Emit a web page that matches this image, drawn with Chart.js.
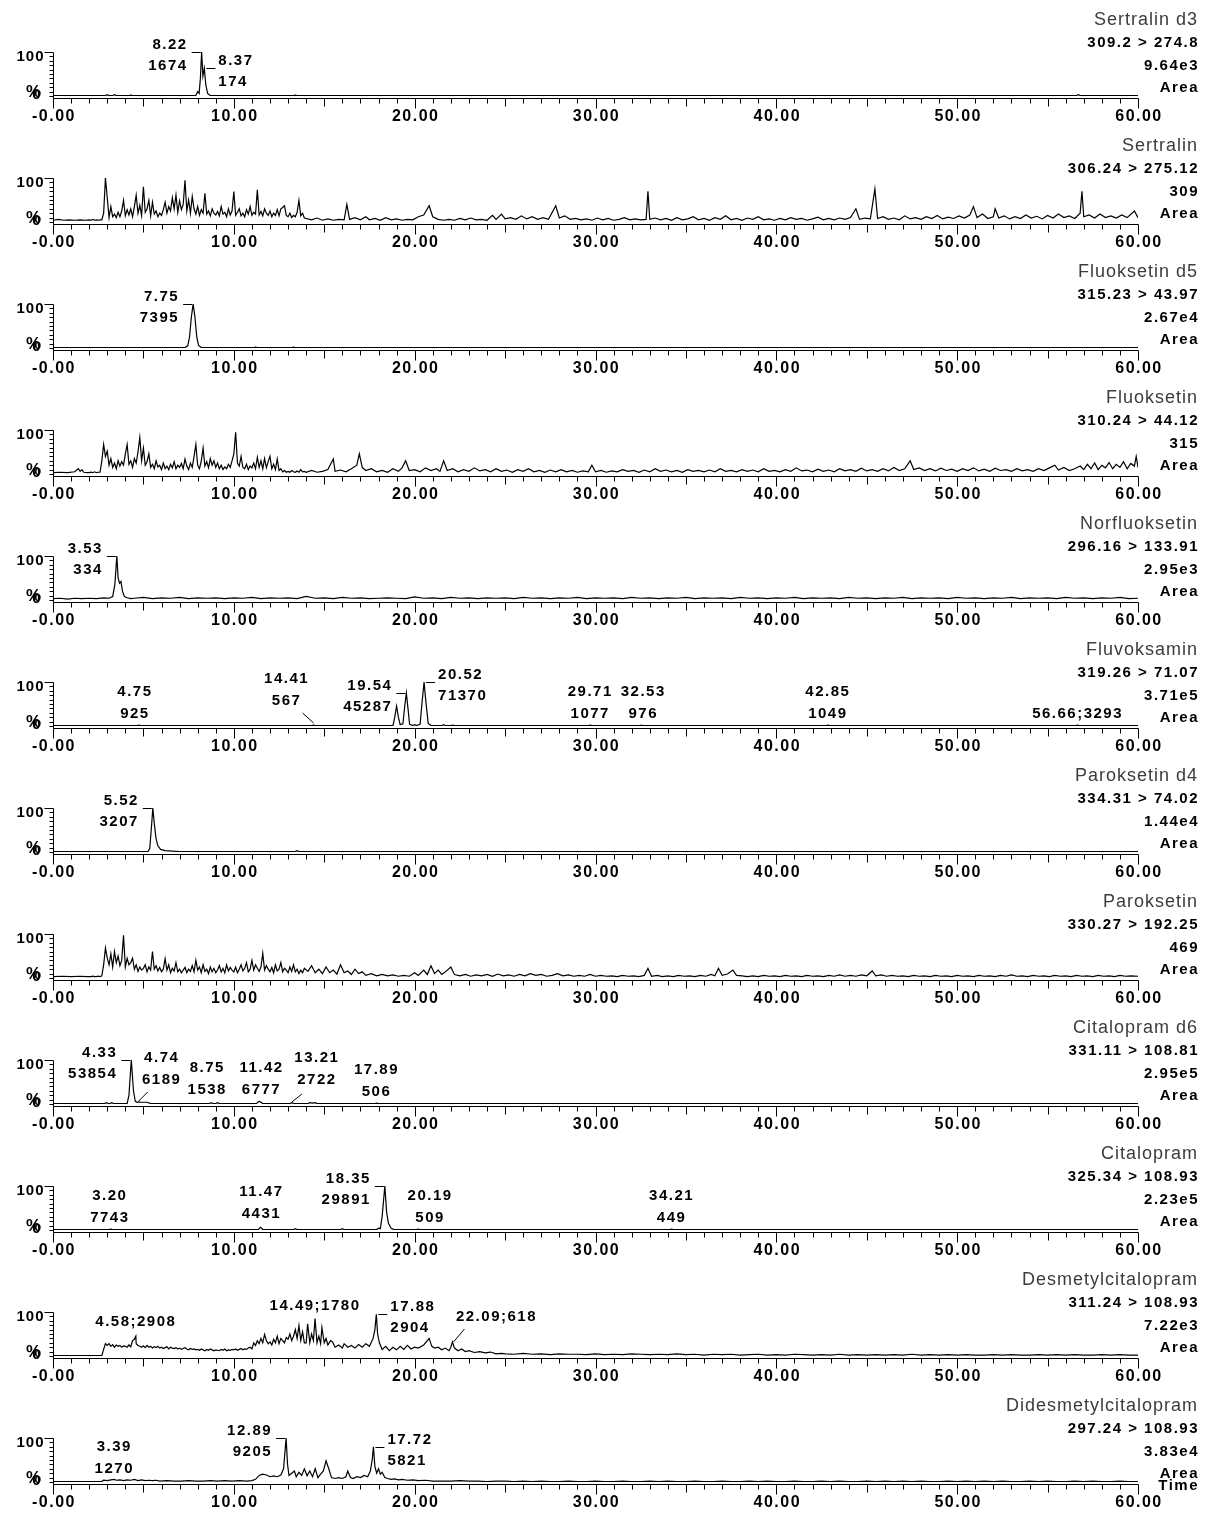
<!DOCTYPE html>
<html>
<head>
<meta charset="utf-8">
<title>MRM kromatogrammer</title>
<script src="https://cdn.jsdelivr.net/npm/chart.js@4.4.1/dist/chart.umd.min.js"></script>
<style>
  html, body { margin: 0; padding: 0; background: #fff; }
  #page { position: relative; width: 1207px; height: 1513px; overflow: hidden; }
  .panel { position: absolute; left: 0; width: 1207px; height: 126px; }
  .panel canvas { position: absolute; left: 0; top: 0; }
  .hdr { position: absolute; right: 8px; height: 22px; line-height: 22px; text-align: right; white-space: nowrap; }
  .hdr.name { font: 18px "Liberation Sans", Arial, sans-serif; color: #3c3c3c; letter-spacing: 1px; right: 9px; }
  .hdr.bold { font: bold 15px "Liberation Sans", Arial, sans-serif; color: #000; letter-spacing: 1.5px; }
</style>
</head>
<body>
<div id="page"></div>
<script>
// Overskrifter for hvert spor
const compoundNames = ['Sertralin d3', 'Sertralin', 'Fluoksetin d5', 'Fluoksetin', 'Norfluoksetin', 'Fluvoksamin',
  'Paroksetin d4', 'Paroksetin', 'Citalopram d6', 'Citalopram', 'Desmetylcitalopram', 'Didesmetylcitalopram'];
const transitions = ['309.2 > 274.8', '306.24 > 275.12', '315.23 > 43.97', '310.24 > 44.12', '296.16 > 133.91', '319.26 > 71.07',
  '334.31 > 74.02', '330.27 > 192.25', '331.11 > 108.81', '325.34 > 108.93', '311.24 > 108.93', '297.24 > 108.93'];
const intensities = ['9.64e3', '309', '2.67e4', '315', '2.95e3', '3.71e5', '1.44e4', '469', '2.95e5', '2.23e5', '7.22e3', '3.83e4'];
const timeTicks = [0, 10, 20, 30, 40, 50, 60];
const timeTickLabels = ['-0.00', '10.00', '20.00', '30.00', '40.00', '50.00', '60.00'];

// Spor: [tid (min), intensitet (%)]; tette områder som verdier per 0.1 min fra 2.0
const sertralinD3Pts = [[0,1],[2.9,1],[3.0,3],[3.1,1],[3.3,1],[3.4,3],[3.5,1],[4.2,1],[4.3,2],[4.4,1],[7.9,1],[8.0,10],
  [8.08,6],[8.15,40],[8.22,100],[8.29,45],[8.37,63],[8.45,25],[8.55,6],[8.7,1],[13.3,1],[13.4,2],[13.5,1],
  [56.6,1],[56.7,3],[56.8,1],[60,1]];

const sertralinPts = [[0,4],[0.3,6],[0.6,4],[0.9,5],[1.2,4],[1.5,5],[1.8,4],
  [14.3,5],[14.6,9],[14.9,4],[15.2,7],[15.5,4],[15.8,6],[16.1,5],[16.25,40],[16.4,6],[16.7,10],[17.0,5],[17.3,12],[17.5,5],
  [17.8,8],[18.1,4],[18.4,10],[18.7,5],[19.0,7],[19.3,4],[19.6,6],[19.9,5],[20.2,12],[20.5,16],[20.8,37],[21.0,12],[21.3,6],
  [21.6,4],[21.9,6],[22.2,4],[22.5,8],[22.8,5],[23.1,9],[23.4,5],[23.7,6],[24.0,4],[24.3,15],[24.5,6],[24.8,18],[25.0,7],
  [25.3,10],[25.6,6],[25.9,14],[26.2,7],[26.5,12],[26.8,6],[27.1,10],[27.4,6],[27.8,37],[28.0,9],[28.3,14],[28.6,6],[28.9,8],
  [29.2,5],[29.5,7],[29.8,4],[30.1,9],[30.4,5],[30.7,8],[31.0,4],[31.3,6],[31.6,10],[31.9,5],[32.2,7],[32.5,5],[32.8,6],
  [32.9,70],[33.0,6],[33.3,9],[33.6,5],[33.9,8],[34.2,4],[34.5,10],[34.8,5],[35.1,7],[35.4,12],[35.7,5],[36.0,8],[36.3,4],
  [36.6,10],[36.9,6],[37.2,14],[37.5,5],[37.8,8],[38.1,4],[38.4,9],[38.7,6],[39.0,12],[39.3,5],[39.6,7],[39.9,4],[40.2,8],
  [40.5,5],[40.8,10],[41.1,6],[41.4,8],[41.7,4],[42.0,7],[42.3,11],[42.6,5],[42.9,8],[43.2,5],[43.5,9],[43.8,6],[44.1,10],
  [44.4,30],[44.6,6],[44.9,9],[45.2,7],[45.45,75],[45.6,8],[45.9,12],[46.2,6],[46.5,9],[46.8,5],[47.1,14],[47.4,7],[47.7,10],
  [48.0,6],[48.3,12],[48.6,8],[48.9,15],[49.2,7],[49.5,11],[49.8,8],[50.1,14],[50.4,9],[50.7,16],[50.9,35],[51.1,10],[51.4,18],
  [51.7,8],[52.0,12],[52.1,30],[52.3,9],[52.6,14],[52.9,7],[53.2,12],[53.5,8],[53.8,16],[54.1,9],[54.4,13],[54.7,7],[55.0,15],
  [55.3,9],[55.6,18],[55.9,10],[56.2,14],[56.5,8],[56.8,20],[56.9,70],[57.0,12],[57.3,16],[57.6,9],[57.9,18],[58.2,10],
  [58.5,14],[58.8,9],[59.1,16],[59.4,10],[59.8,25],[60,10]];
const sertralinFast = [
  5, 4, 6, 4, 5, 4, 5, 5, 20, 100,
  55, 10, 35, 12, 18, 10, 22, 12, 25, 49,
  14, 28, 16, 30, 12, 35, 61, 20, 38, 15,
  80, 22, 30, 49, 14, 45, 18, 25, 12, 20,
  15, 28, 45, 20, 35, 25, 55, 30, 61, 22,
  48, 28, 40, 95, 25, 50, 20, 58, 30, 18,
  35, 15, 28, 20, 65, 18, 25, 14, 30, 20,
  16, 24, 14, 35, 18, 22, 12, 30, 16, 25,
  69, 15, 22, 30, 14, 20, 12, 28, 18, 35,
  15, 22, 18, 73, 16, 24, 14, 30, 20, 15,
  25, 12, 20, 15, 28, 14, 30, 33, 37, 15,
  12, 20, 10, 15, 12, 22, 49, 14, 20, 9];

const fluoksetinD5Pts = [[0,1],[7.3,1],[7.45,5],[7.55,25],[7.65,70],[7.75,100],[7.85,70],[7.95,25],[8.05,6],[8.2,1],
  [11.1,1],[11.2,2],[11.3,1],[13.2,1],[13.3,2],[13.4,1],[60,1]];

const fluoksetinPts = [[0,3],[0.4,4],[0.8,3],[1.2,5],[1.4,12],[1.5,6],[1.6,10],[1.7,4],[1.9,3],
  [14.0,4],[14.3,8],[14.6,4],[14.9,6],[15.2,10],[15.5,34],[15.6,6],[15.9,9],[16.2,5],[16.5,12],[16.8,20],[16.94,46],[17.1,15],
  [17.3,8],[17.6,12],[17.9,5],[18.2,8],[18.5,4],[18.8,12],[19.1,6],[19.3,14],[19.5,30],[19.7,8],[20.0,10],[20.3,5],[20.6,14],
  [20.9,8],[21.2,12],[21.4,6],[21.6,30],[21.8,8],[22.1,12],[22.4,5],[22.7,10],[23.0,6],[23.3,14],[23.6,7],[23.9,10],[24.2,5],
  [24.5,12],[24.8,6],[25.1,9],[25.4,4],[25.7,10],[26.0,6],[26.3,12],[26.6,5],[26.9,8],[27.2,4],[27.5,9],[27.8,5],[28.1,10],
  [28.4,5],[28.7,8],[29.0,4],[29.3,7],[29.6,5],[29.8,20],[30.0,5],[30.3,8],[30.6,4],[30.9,7],[31.2,5],[31.5,10],[31.8,6],
  [32.1,8],[32.4,4],[32.7,9],[33.0,5],[33.3,12],[33.6,6],[33.9,9],[34.2,5],[34.5,8],[34.8,4],[35.1,10],[35.4,6],[35.7,8],
  [36.0,5],[36.3,9],[36.6,5],[36.9,12],[37.2,6],[37.5,8],[37.8,5],[38.1,10],[38.4,6],[38.7,9],[39.0,5],[39.3,12],[39.6,6],
  [39.9,8],[40.2,5],[40.5,10],[40.8,6],[41.1,14],[41.4,7],[41.7,9],[42.0,5],[42.3,11],[42.6,6],[42.9,9],[43.2,5],[43.5,12],
  [43.8,7],[44.1,10],[44.4,6],[44.7,13],[45.0,7],[45.3,10],[45.6,6],[45.9,12],[46.2,7],[46.5,15],[46.8,8],[47.1,12],[47.4,30],
  [47.6,10],[47.9,14],[48.2,8],[48.5,12],[48.8,7],[49.1,13],[49.4,8],[49.7,11],[50.0,6],[50.3,12],[50.6,8],[50.9,14],[51.2,7],
  [51.5,11],[51.8,6],[52.1,13],[52.4,8],[52.7,10],[53.0,6],[53.3,12],[53.6,7],[53.9,10],[54.2,6],[54.5,12],[54.8,8],[55.1,14],
  [55.4,20],[55.6,9],[55.9,15],[56.2,8],[56.5,12],[56.8,18],[57.0,10],[57.2,22],[57.4,12],[57.6,25],[57.8,10],[58.0,20],
  [58.2,14],[58.4,26],[58.6,12],[58.8,22],[59.0,15],[59.2,28],[59.4,12],[59.6,24],[59.8,18],[59.9,40],[60,15]];
const fluoksetinFast = [
  3, 4, 3, 5, 3, 4, 4, 30, 67, 40,
  52, 20, 35, 15, 25, 12, 30, 18, 28, 20,
  45, 67, 22, 30, 15, 35, 25, 50, 83, 30,
  59, 20, 28, 46, 15, 22, 12, 30, 16, 20,
  10, 25, 12, 18, 10, 22, 14, 28, 12, 20,
  15, 24, 12, 34, 18, 10, 25, 15, 40, 67,
  20, 12, 30, 59, 18, 28, 14, 35, 20, 30,
  15, 25, 12, 20, 10, 16, 12, 22, 15, 30,
  45, 95, 25, 18, 40, 15, 12, 22, 10, 18,
  14, 25, 12, 38, 15, 30, 12, 35, 14, 28,
  40, 12, 22, 10, 34, 8, 12, 5, 8, 4,
  6, 4, 8, 5, 4, 7, 4, 10, 5, 6];

const norfluoksetinPts = [[0,3],[0.4,4],[0.8,2],[1.2,4],[1.6,3],[2.0,4],[2.4,3],[2.8,5],[3.1,4],[3.3,8],[3.42,35],
  [3.53,100],[3.6,50],[3.68,38],[3.76,42],[3.84,20],[3.95,8],[4.1,5],[4.3,3]];
// 0.5 min oppløsning fra 4.5 min
const norfluoksetinSlow = [
  4, 6, 3, 5, 4, 6, 3, 5, 4, 5,
  3, 5, 4, 6, 3, 5, 4, 5, 3, 8,
  4, 5, 3, 6, 4, 5, 3, 4, 5, 4,
  3, 7, 4, 5, 3, 6, 4, 5, 3, 5,
  4, 5, 3, 6, 4, 5, 3, 5, 4, 6,
  3, 5, 4, 5, 3, 6, 4, 5, 3, 5,
  4, 6, 3, 5, 4, 5, 3, 6, 4, 5,
  3, 5, 4, 6, 3, 5, 4, 5, 3, 6,
  4, 5, 3, 5, 4, 6, 3, 5, 4, 5,
  3, 6, 4, 5, 3, 5, 4, 6, 3, 5,
  4, 5, 3, 6, 4, 5, 3, 5, 4, 6,
  3, 4];

const fluvoksaminPts = [[0,1],[4.65,1],[4.75,2],[4.85,1],[14.3,1],[14.41,2],[14.5,1],[18.8,1],[18.9,20],[19.0,45],[19.1,20],
  [19.2,3],[19.35,5],[19.45,45],[19.54,75],[19.63,40],[19.72,4],[19.9,1],[20.0,3],[20.1,1],[20.3,4],[20.4,50],[20.52,100],
  [20.62,55],[20.75,6],[20.9,1],[21.5,1],[21.6,3],[21.7,1],[22.0,1],[22.1,2],[22.2,1],[29.6,1],[29.71,2],[29.8,1],
  [32.45,1],[32.53,2],[32.6,1],[42.75,1],[42.85,2],[42.95,1],[56.55,1],[56.66,2],[56.75,1],[60,1]];

const paroksetinD4Pts = [[0,1],[5.25,1],[5.35,8],[5.45,60],[5.52,100],[5.6,65],[5.7,30],[5.8,14],[5.95,6],[6.2,3],[6.6,2],
  [7.0,1],[13.4,1],[13.5,3],[13.6,1],[60,1]];

const paroksetinPts = [[0,3],[0.5,4],[1.0,3],[1.5,4],[1.9,3],
  [14.1,15],[14.3,28],[14.5,12],[14.7,20],[14.9,10],[15.1,25],[15.3,12],[15.5,18],[15.7,9],[15.9,30],[16.1,12],[16.3,16],
  [16.5,8],[16.7,20],[16.9,10],[17.1,14],[17.3,6],[17.6,10],[17.9,5],[18.2,8],[18.5,5],[18.8,7],[19.1,4],[19.4,6],[19.7,4],
  [20.0,12],[20.2,6],[20.5,18],[20.7,8],[20.9,28],[21.1,10],[21.3,18],[21.5,8],[21.7,14],[22.0,25],[22.2,8],[22.5,5],[22.8,8],
  [23.1,4],[23.4,7],[23.7,5],[24.0,8],[24.3,4],[24.6,9],[24.9,5],[25.2,7],[25.5,4],[25.8,8],[26.1,5],[26.4,10],[26.7,6],
  [27.0,8],[27.3,4],[27.6,6],[27.9,10],[28.2,5],[28.5,7],[28.8,4],[29.1,6],[29.4,4],[29.7,8],[30.0,4],[30.3,6],[30.6,4],
  [30.9,5],[31.2,3],[31.5,6],[31.8,4],[32.1,5],[32.4,3],[32.7,6],[32.9,22],[33.1,4],[33.4,6],[33.7,3],[34.0,5],[34.3,3],
  [34.6,6],[34.9,4],[35.2,5],[35.5,3],[35.8,6],[36.1,4],[36.4,8],[36.6,5],[36.8,22],[37.0,6],[37.3,9],[37.6,18],[37.8,6],
  [38.1,5],[38.4,3],[38.7,5],[39.0,3],[39.3,6],[39.6,4],[39.9,5],[40.2,3],[40.5,6],[40.8,4],[41.1,5],[41.4,3],[41.7,6],
  [42.0,4],[42.3,5],[42.6,3],[42.9,6],[43.2,4],[43.5,7],[43.8,4],[44.1,6],[44.4,4],[44.7,7],[45.0,5],[45.3,16],[45.5,5],
  [45.8,7],[46.1,4],[46.4,6],[46.7,4],[47.0,5],[47.3,3],[47.6,6],[47.9,4],[48.2,5],[48.5,3],[48.8,6],[49.1,4],[49.4,5],
  [49.7,3],[50.0,6],[50.3,4],[50.6,5],[50.9,3],[51.2,6],[51.5,4],[51.8,5],[52.1,3],[52.4,6],[52.7,4],[53.0,7],[53.3,4],
  [53.6,5],[53.9,3],[54.2,6],[54.5,4],[54.8,5],[55.1,3],[55.4,6],[55.7,4],[56.0,5],[56.3,3],[56.6,6],[56.9,4],[57.2,5],
  [57.5,3],[57.8,6],[58.1,4],[58.4,5],[58.7,3],[59.0,6],[59.3,4],[59.6,5],[60,4]];
const paroksetinFast = [
  3, 3, 4, 3, 3, 4, 3, 5, 30, 68,
  45, 30, 55, 25, 60, 35, 50, 28, 40, 97,
  25, 45, 30, 35, 45, 20, 30, 15, 25, 18,
  22, 30, 14, 25, 18, 60, 20, 28, 16, 24,
  14, 20, 44, 18, 30, 12, 22, 16, 35, 14,
  20, 12, 18, 24, 12, 20, 15, 28, 14, 40,
  18, 25, 12, 30, 15, 20, 10, 25, 14, 22,
  12, 18, 28, 14, 22, 12, 30, 16, 24, 18,
  14, 25, 12, 20, 30, 16, 22, 35, 14, 20,
  40, 18, 30, 22, 15, 25, 56, 18, 28, 20,
  14, 24, 12, 30, 16, 20, 35, 14, 22, 18,
  12, 25, 15, 30, 14, 20, 10, 18, 12, 22];

const citalopramD6Pts = [[0,1],[2.85,1],[2.95,3],[3.05,1],[3.15,1],[3.25,3],[3.35,1],[4.1,1],[4.2,20],[4.33,100],[4.45,30],
  [4.55,6],[4.65,4],[4.74,5],[4.85,4],[5.2,4],[5.4,1],[8.65,1],[8.75,3],[8.85,1],[9.0,1],[9.1,3],[9.2,1],[11.25,1],
  [11.35,5],[11.42,6],[11.5,4],[11.6,1],[13.1,1],[13.21,3],[13.3,1],[14.1,1],[14.2,3],[14.35,2],[14.5,3],[14.6,1],
  [17.8,1],[17.89,2],[18.0,1],[60,1]];

const citalopramPts = [[0,1],[3.1,1],[3.2,2],[3.3,1],[11.35,1],[11.47,6],[11.6,1],[13.3,1],[13.4,3],[13.5,1],[15.9,1],
  [16.0,3],[16.1,1],[17.9,1],[18.0,4],[18.1,3],[18.2,30],[18.35,100],[18.45,40],[18.55,15],[18.7,4],[18.85,1],[20.1,1],
  [20.19,2],[20.3,1],[34.1,1],[34.21,2],[34.3,1],[60,1]];

const desmetylPts = [[0,1],[1.9,1],[4.58,45],
  [14.0,30],[14.08,73],[14.2,30],[14.3,50],[14.4,35],[14.49,85],[14.6,30],[14.7,45],[14.8,28],[14.87,65],[15.0,30],[15.1,40],
  [15.2,25],[15.35,35],[15.46,32],[15.6,20],[15.8,25],[16.0,18],[16.1,28],[16.3,20],[16.5,24],[16.7,18],[16.9,26],[17.1,20],
  [17.3,28],[17.5,22],[17.7,40],[17.8,60],[17.88,95],[17.95,50],[18.05,30],[18.2,15],[18.4,22],[18.6,12],[18.8,20],[19.0,14],
  [19.2,22],[19.4,15],[19.6,24],[19.8,16],[20.0,20],[20.2,18],[20.5,25],[20.7,35],[20.8,40],[20.95,22],[21.1,18],[21.3,20],
  [21.5,14],[21.7,18],[21.9,12],[22.0,20],[22.09,32],[22.2,18],[22.4,12],[22.6,16],[22.8,10],[23.0,12],[23.3,8],[23.6,10],
  [23.9,7],[24.2,9],[24.5,5],[24.8,6]];
const desmetylFast = [
  1, 1, 1, 1, 1, 1, 1, 1, 15, 28,
  24, 28, 22, 26, 20, 25, 22, 24, 20, 23,
  22, 20, 25, 21, 35, 38, 28, 24, 22, 20,
  23, 19, 24, 20, 22, 18, 21, 19, 22, 18,
  20, 17, 19, 21, 16, 20, 18, 17, 19, 16,
  18, 15, 17, 19, 16, 14, 17, 15, 16, 14,
  15, 13, 16, 14, 12, 15, 13, 16, 14, 12,
  14, 13, 12, 15, 13, 16, 12, 14, 13, 15,
  14, 16, 13, 15, 17, 14, 16, 15, 18, 20,
  16, 30, 24, 35, 28, 40, 30, 49, 35, 28,
  32, 25, 38, 30, 45, 28, 40, 35, 30, 42,
  38, 50, 35, 45, 60, 40, 69, 35, 55, 30];
// 0.5 min oppløsning fra 25 min
const desmetylSlow = [
  5, 4, 6, 4, 5, 3, 5, 4, 4, 3,
  5, 3, 4, 3, 5, 4, 3, 4, 3, 5,
  3, 4, 2, 4, 3, 4, 2, 3, 4, 2,
  3, 2, 4, 3, 2, 3, 2, 4, 2, 3,
  2, 3, 2, 3, 2, 4, 2, 3, 2, 3,
  2, 3, 2, 2, 3, 2, 3, 2, 2, 3,
  2, 3, 2, 3, 2, 2, 3, 2, 3, 2,
  2];

const didesmetylPts = [[0,1],[2.7,1],[2.8,4],[3.0,3],[3.2,5],[3.39,6],[3.5,4],[3.7,5],[3.9,3],[4.1,5],[4.3,4],[4.5,6],
  [4.7,3],[4.9,5],[5.1,3],[5.3,4],[5.5,3],[5.7,4],[5.9,2],[6.3,3],[6.7,2],[7.1,2],[7.5,3],[7.9,2],[8.3,2],[8.7,3],[9.1,2],
  [9.5,3],[9.9,2],[10.3,3],[10.7,2],[11.0,3],[11.2,6],[11.4,15],[11.6,18],[11.8,16],[12.0,12],[12.2,14],[12.4,12],[12.6,16],
  [12.75,30],[12.89,100],[12.97,40],[13.05,15],[13.2,20],[13.35,25],[13.45,12],[13.6,22],[13.75,15],[13.9,30],[14.05,14],
  [14.2,25],[14.35,12],[14.5,30],[14.65,10],[14.8,18],[14.95,25],[15.1,48],[15.25,30],[15.4,10],[15.6,8],[15.8,10],[16.0,8],
  [16.2,12],[16.3,25],[16.45,10],[16.6,8],[16.8,12],[17.0,10],[17.2,15],[17.4,12],[17.55,25],[17.65,50],[17.72,80],[17.8,35],
  [17.9,20],[18.0,30],[18.1,18],[18.2,22],[18.35,10],[18.5,8],[18.7,6],[18.9,7],[19.1,5],[19.3,6],[19.6,4],[19.9,5],[20.2,3],
  [20.6,4],[21.0,2]];
// 0.5 min oppløsning fra 21.5 min
const didesmetylSlow = [
  2, 2, 3, 2, 2, 1, 2, 2, 1, 2,
  1, 2, 1, 1, 2, 1, 1, 2, 1, 1,
  2, 1, 1, 2, 1, 2, 1, 1, 2, 1,
  1, 2, 1, 1, 2, 1, 2, 1, 1, 2,
  1, 1, 2, 1, 2, 1, 1, 2, 1, 2,
  1, 2, 1, 2, 1, 1, 2, 1, 2, 1,
  2, 1, 2, 1, 1, 2, 1, 2, 1, 1,
  2, 1, 2, 1, 1, 2, 1, 1];

// Toppmerking: tid og areal
const sertralinD3Peaks = [{ t: 8.22, area: '1674', kind: 'left' }, { t: 8.37, area: '174', kind: 'right' }];
const fluoksetinD5Peaks = [{ t: 7.75, area: '7395', kind: 'left' }];
const norfluoksetinPeaks = [{ t: 3.53, area: '334', kind: 'left' }];
const fluvoksaminPeaks = [
  { t: 4.75, area: '925', kind: 'free', dx: -4, y: 62 },
  { t: 14.41, area: '567', kind: 'free', dx: -27, y: 49, lead: [-11, 83, 0, 93] },
  { t: 19.54, area: '45287', kind: 'left' },
  { t: 20.52, area: '71370', kind: 'right' },
  { t: 29.71, area: '1077', kind: 'free', dx: 0, y: 62 },
  { t: 32.53, area: '976', kind: 'free', dx: 2, y: 62 },
  { t: 42.85, area: '1049', kind: 'free', dx: 0, y: 62 },
  { t: 56.66, area: '3293', kind: 'free', join: true, dx: 0, y: 84 }];
const paroksetinD4Peaks = [{ t: 5.52, area: '3207', kind: 'left' }];
const citalopramD6Peaks = [
  { t: 4.33, area: '53854', kind: 'left' },
  { t: 4.74, area: '6189', kind: 'free', dx: 23, y: 50, lead: [9, 84, 0, 93] },
  { t: 8.75, area: '1538', kind: 'free', dx: -4, y: 60 },
  { t: 11.42, area: '6777', kind: 'free', dx: 2, y: 60 },
  { t: 13.21, area: '2722', kind: 'free', dx: 25, y: 50, lead: [10, 86, 0, 94] },
  { t: 17.89, area: '506', kind: 'free', dx: 0, y: 62 }];
const citalopramPeaks = [
  { t: 3.20, area: '7743', kind: 'free', dx: -1, y: 62 },
  { t: 11.47, area: '4431', kind: 'free', dx: 1, y: 58 },
  { t: 18.35, area: '29891', kind: 'left' },
  { t: 20.19, area: '509', kind: 'free', dx: 12, y: 62 },
  { t: 34.21, area: '449', kind: 'free', dx: 0, y: 62 }];
const desmetylPeaks = [
  { t: 4.58, area: '2908', kind: 'free', join: true, dx: 0, y: 62 },
  { t: 14.49, area: '1780', kind: 'free', join: true, dx: 0, y: 46 },
  { t: 17.88, area: '2904', kind: 'right' },
  { t: 22.09, area: '618', kind: 'free', join: true, dx: 44, y: 57, lead: [12, 69, 1, 82] }];
const didesmetylPeaks = [
  { t: 3.39, area: '1270', kind: 'free', dx: 0, y: 61 },
  { t: 12.89, area: '9205', kind: 'left' },
  { t: 17.72, area: '5821', kind: 'right' }];

// Slå sammen punktlister og tette verdirekker
function buildTrace(pairs, grids = []) {
  const pts = pairs.map(([x, y]) => ({ x, y }));
  grids.forEach(g => {
    g.values.forEach((y, i) => pts.push({ x: +(g.from + i * g.step).toFixed(2), y }));
  });
  return pts.sort((a, b) => a.x - b.x);
}

const traces = [
  buildTrace(sertralinD3Pts),
  buildTrace(sertralinPts, [{ from: 2.0, step: 0.1, values: sertralinFast }]),
  buildTrace(fluoksetinD5Pts),
  buildTrace(fluoksetinPts, [{ from: 2.0, step: 0.1, values: fluoksetinFast }]),
  buildTrace(norfluoksetinPts, [{ from: 4.5, step: 0.5, values: norfluoksetinSlow }]),
  buildTrace(fluvoksaminPts),
  buildTrace(paroksetinD4Pts),
  buildTrace(paroksetinPts, [{ from: 2.0, step: 0.1, values: paroksetinFast }]),
  buildTrace(citalopramD6Pts),
  buildTrace(citalopramPts),
  buildTrace(desmetylPts, [{ from: 2.0, step: 0.1, values: desmetylFast }, { from: 25.0, step: 0.5, values: desmetylSlow }]),
  buildTrace(didesmetylPts, [{ from: 21.5, step: 0.5, values: didesmetylSlow }])
];
const peakSets = [sertralinD3Peaks, [], fluoksetinD5Peaks, [], norfluoksetinPeaks, fluvoksaminPeaks,
  paroksetinD4Peaks, [], citalopramD6Peaks, citalopramPeaks, desmetylPeaks, didesmetylPeaks];

const PANEL_H = 126;
const BOLD = 'bold 15px "Liberation Sans", Arial, sans-serif';

function line(ctx, x1, y1, x2, y2) {
  ctx.beginPath();
  ctx.moveTo(x1, y1);
  ctx.lineTo(x2, y2);
  ctx.stroke();
}

// Akser tegnet i MassLynx-stil
const axisPlugin = {
  id: 'mlAxes',
  afterDraw(chart) {
    const ctx = chart.ctx;
    const xs = chart.scales.x, ys = chart.scales.y;
    const left = Math.round(xs.getPixelForValue(0)) + 0.5;
    const right = Math.round(xs.getPixelForValue(60)) + 0.5;
    const top = Math.round(ys.getPixelForValue(100)) + 0.5;
    const axisY = Math.round(ys.getPixelForValue(0)) + 2.5;
    ctx.save();
    ctx.strokeStyle = '#000';
    ctx.fillStyle = '#000';
    ctx.lineWidth = 1;
    line(ctx, left, axisY, right, axisY);
    line(ctx, left, top, left, axisY);
    for (let m = 0; m <= 60; m++) {
      const px = Math.round(xs.getPixelForValue(m)) + 0.5;
      const len = m % 10 === 0 ? 10 : (m % 5 === 0 ? 8 : 5);
      line(ctx, px, axisY, px, axisY + len);
    }
    for (let p = 0; p <= 100; p += 10) {
      const py = Math.round(ys.getPixelForValue(p)) + 0.5;
      line(ctx, left - (p === 100 ? 9 : 4), py, left, py);
    }
    ctx.font = 'bold 16px "Liberation Sans", Arial, sans-serif';
    ctx.letterSpacing = '1.5px';
    ctx.textAlign = 'center';
    ctx.textBaseline = 'middle';
    timeTicks.forEach((m, i) => ctx.fillText(timeTickLabels[i], xs.getPixelForValue(m) + 1, 117));
    ctx.font = BOLD;
    ctx.letterSpacing = '1px';
    ctx.textAlign = 'right';
    ctx.fillText('100', left - 9, top + 4);
    ctx.textAlign = 'center';
    ctx.font = 'bold 17px "Liberation Sans", Arial, sans-serif';
    ctx.fillText('%', 34, 92);
    ctx.font = BOLD;
    ctx.fillText('0', 37, 95);
    ctx.restore();
  }
};

function makePeakPlugin(points, peaks) {
  return {
    id: 'peakLabels',
    afterDatasetsDraw(chart) {
      const ctx = chart.ctx;
      const xs = chart.scales.x, ys = chart.scales.y;
      ctx.save();
      ctx.strokeStyle = '#000';
      ctx.fillStyle = '#000';
      ctx.lineWidth = 1;
      ctx.font = BOLD;
      ctx.letterSpacing = '1.5px';
      ctx.textBaseline = 'middle';
      peaks.forEach(pk => {
        const px = xs.getPixelForValue(pk.t);
        const hit = points.find(p => Math.abs(p.x - pk.t) < 1e-6);
        const py = Math.round(ys.getPixelForValue(hit ? hit.y : 0)) + 0.5;
        const tTxt = pk.t.toFixed(2);
        if (pk.kind === 'left') {
          line(ctx, px - 10, py, px - 1, py);
          ctx.textAlign = 'right';
          ctx.fillText(tTxt, px - 14, py - 8);
          ctx.fillText(pk.area, px - 14, py + 13);
        } else if (pk.kind === 'right') {
          line(ctx, px + 2, py, px + 11, py);
          ctx.textAlign = 'left';
          ctx.fillText(tTxt, px + 14, py - 8);
          ctx.fillText(pk.area, px + 14, py + 13);
        } else {
          ctx.textAlign = 'center';
          const cx = px + pk.dx;
          if (pk.join) {
            ctx.fillText(tTxt + ';' + pk.area, cx, pk.y);
          } else {
            ctx.fillText(tTxt, cx, pk.y);
            ctx.fillText(pk.area, cx, pk.y + 22);
          }
          if (pk.lead) {
            const [a, b, c, d] = pk.lead;
            line(ctx, px + a, b, px + c, d);
          }
        }
      });
      ctx.restore();
    }
  };
}

const page = document.getElementById('page');
const hdrTops = [9, 33, 56, 78];

traces.forEach((pts, i) => {
  const panel = document.createElement('div');
  panel.className = 'panel';
  panel.style.top = (i * PANEL_H) + 'px';
  const canvas = document.createElement('canvas');
  canvas.width = 1207;
  canvas.height = PANEL_H;
  panel.appendChild(canvas);

  const texts = [compoundNames[i], transitions[i], intensities[i], 'Area'];
  texts.forEach((txt, k) => {
    const d = document.createElement('div');
    d.className = 'hdr ' + (k === 0 ? 'name' : 'bold');
    d.style.top = hdrTops[k] + 'px';
    d.textContent = txt;
    panel.appendChild(d);
  });
  if (i === traces.length - 1) {
    const d = document.createElement('div');
    d.className = 'hdr bold';
    d.style.top = '90px';
    d.textContent = 'Time';
    panel.appendChild(d);
  }
  page.appendChild(panel);

  new Chart(canvas, {
    type: 'line',
    data: {
      datasets: [{
        data: pts,
        borderColor: '#000',
        borderWidth: 1.2,
        pointRadius: 0,
        tension: 0,
        fill: false
      }]
    },
    options: {
      responsive: false,
      animation: false,
      events: [],
      layout: { padding: { left: 53, right: 69, top: 52, bottom: 30 } },
      scales: {
        x: { type: 'linear', min: 0, max: 60, display: false },
        y: { min: 0, max: 100, display: false }
      },
      plugins: {
        legend: { display: false },
        tooltip: { enabled: false }
      }
    },
    plugins: [axisPlugin, makePeakPlugin(pts, peakSets[i])]
  });
});
</script>
</body>
</html>
